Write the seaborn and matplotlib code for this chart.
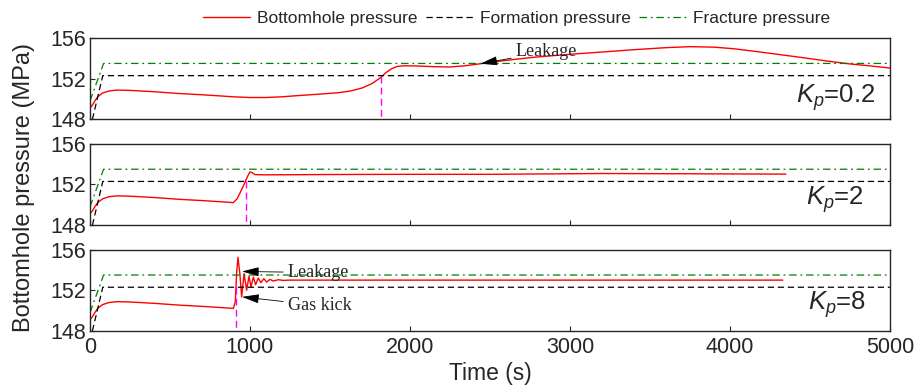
import matplotlib
matplotlib.use("Agg")
import matplotlib.pyplot as plt
import seaborn as sns

# ---- data -------------------------------------------------------------
# shared start-up segment (all controller gains)
t_start = [0, 15, 30, 50, 80, 120, 170, 250, 400, 550, 700, 800, 896]
p_start = [149.1, 149.4, 149.8, 150.25, 150.6, 150.8, 150.88, 150.85, 150.72,
           150.55, 150.42, 150.32, 150.22]

# Kp = 0.2
t_k02 = [1000, 1100, 1200, 1312, 1450, 1550, 1625, 1700, 1760, 1812, 1850, 1885,
         1920, 1960, 2040, 2150, 2250, 2350, 2440, 2600, 2770, 3000, 3200, 3400,
         3600, 3750, 3900, 4020, 4200, 4440, 4600, 4750, 4880, 5000]
p_k02 = [150.15, 150.15, 150.22, 150.35, 150.5, 150.62, 150.78, 151.08, 151.5,
         152.05, 152.6, 152.98, 153.2, 153.27, 153.25, 153.18, 153.15, 153.28,
         153.47, 153.8, 154.1, 154.4, 154.62, 154.85, 155.05, 155.15, 155.1,
         154.95, 154.6, 154.1, 153.75, 153.45, 153.25, 153.05]

# Kp = 2
t_k2 = [920, 958, 985, 1000, 1015, 1031, 1100, 1500, 2000, 2500, 3200, 3800, 4350]
p_k2 = [150.6, 151.83, 152.8, 153.24, 153.15, 152.97, 152.95, 152.98, 153.0,
        153.0, 153.08, 153.05, 153.02]

# Kp = 8
t_k8 = [908, 917, 925, 937, 948, 963, 979, 994, 1006, 1021, 1035, 1052, 1068,
        1087, 1104, 1125, 1146, 1177, 1208, 1240, 2000, 3000, 4330]
p_k8 = [150.86, 153.8, 155.25, 153.6, 151.35, 153.63, 152.0, 153.4, 152.32,
        153.3, 152.55, 153.2, 152.75, 153.14, 152.81, 153.07, 152.91, 153.04,
        152.97, 153.0, 153.0, 153.0, 153.0]

# formation / fracture pressure
t_form = [15, 80, 5000]
p_form = [148.0, 152.3, 152.3]
t_frac = [0, 85, 5000]
p_frac = [149.8, 153.5, 153.5]

# time at which bottomhole pressure crosses the formation pressure
t_cross = [1819, 973, 912]

gain_labels = ["0.2", "2", "8"]
series_labels = ["Bottomhole pressure", "Formation pressure", "Fracture pressure"]
x_ticks = [0, 1000, 2000, 3000, 4000, 5000]
y_ticks = [148, 152, 156]

# ---- style -------------------------------------------------------------
sns.set_style("white")
plt.rcParams["font.family"] = ["Liberation Sans", "DejaVu Sans"]
plt.rcParams["mathtext.fontset"] = "custom"
plt.rcParams["mathtext.rm"] = "Liberation Sans"
plt.rcParams["mathtext.it"] = "Liberation Sans:italic"

RED = "#FF0000"
GREEN = "#008000"
MAGENTA = "#FF00FF"

fig = plt.figure(figsize=(9.21, 3.85), dpi=100)
gs = fig.add_gridspec(3, 1, left=0.0977, right=0.9663, top=0.9013,
                      bottom=0.1403, hspace=0.30)
axes = [fig.add_subplot(gs[i]) for i in range(3)]

curves = [(t_start + t_k02, p_start + p_k02),
          (t_start + t_k2, p_start + p_k2),
          (t_start + t_k8, p_start + p_k8)]
label_y = [0.20, 0.256, 0.256]
label_x = [0.982, 0.968, 0.97]

for i, ax in enumerate(axes):
    t_bh, p_bh = curves[i]
    sns.lineplot(x=t_bh, y=p_bh, ax=ax, color=RED, linewidth=1.0,
                 label=series_labels[0], sort=False, estimator=None)
    sns.lineplot(x=t_form, y=p_form, ax=ax, color="black", linewidth=0.9,
                 linestyle=(0, (5, 3)), label=series_labels[1],
                 sort=False, estimator=None)
    sns.lineplot(x=t_frac, y=p_frac, ax=ax, color=GREEN, linewidth=0.9,
                 linestyle=(0, (6, 3, 1.5, 3)), label=series_labels[2],
                 sort=False, estimator=None)
    sns.lineplot(x=[t_cross[i], t_cross[i]], y=[p_form[-1], 148], ax=ax,
                 color=MAGENTA, linewidth=1.0, linestyle=(0, (5, 3)),
                 sort=False, estimator=None)
    if ax.get_legend() is not None:
        ax.get_legend().remove()

    ax.set_xlim(0, 5000)
    ax.set_ylim(148, 156)
    ax.set_xticks(x_ticks)
    ax.set_yticks(y_ticks)
    ax.tick_params(direction="in", length=3.5, width=0.8, labelsize=15.5,
                   bottom=True, left=True, top=False, right=False)
    ax.tick_params(axis="x", pad=4)
    ax.tick_params(axis="y", pad=3)
    if i < 2:
        ax.set_xticklabels([])
    for sp in ax.spines.values():
        sp.set_color("#262626")
        sp.set_linewidth(1.0)
    ax.set_xlabel("")
    ax.set_ylabel("")
    ax.text(label_x[i], label_y[i], "$K_p$=" + gain_labels[i],
            transform=ax.transAxes, ha="right", va="baseline", fontsize=18.5)

# annotations
arrow = dict(arrowstyle="-|>,head_length=0.75,head_width=0.2", color="black",
             lw=0.6, mutation_scale=14, shrinkA=1, shrinkB=0)
serif = ["Liberation Serif", "DejaVu Serif"]
axes[0].annotate("Leakage", xy=(2440, 153.47), xytext=(2662, 154.2),
                 ha="left", va="baseline", fontsize=13, family=serif,
                 arrowprops=arrow)
axes[2].annotate("Leakage", xy=(950, 153.85), xytext=(1237, 153.3),
                 ha="left", va="baseline", fontsize=13, family=serif,
                 arrowprops=arrow)
axes[2].annotate("Gas kick", xy=(950, 151.35), xytext=(1237, 150.05),
                 ha="left", va="baseline", fontsize=13, family=serif,
                 arrowprops=arrow)

# axis titles
fig.text(0.026, 0.514, "Bottomhole pressure (MPa)", rotation=90,
         ha="center", va="center", fontsize=17)
fig.text(0.532, 0.029, "Time (s)", ha="center", va="center", fontsize=16.5)

handles = axes[0].get_lines()[:3]
fig.legend(handles, series_labels, loc="center", bbox_to_anchor=(0.561, 0.951),
           ncol=3, frameon=False, fontsize=12.5, handlelength=2.7,
           handletextpad=0.4, columnspacing=0.5)

fig.savefig("out.png", dpi=100)
